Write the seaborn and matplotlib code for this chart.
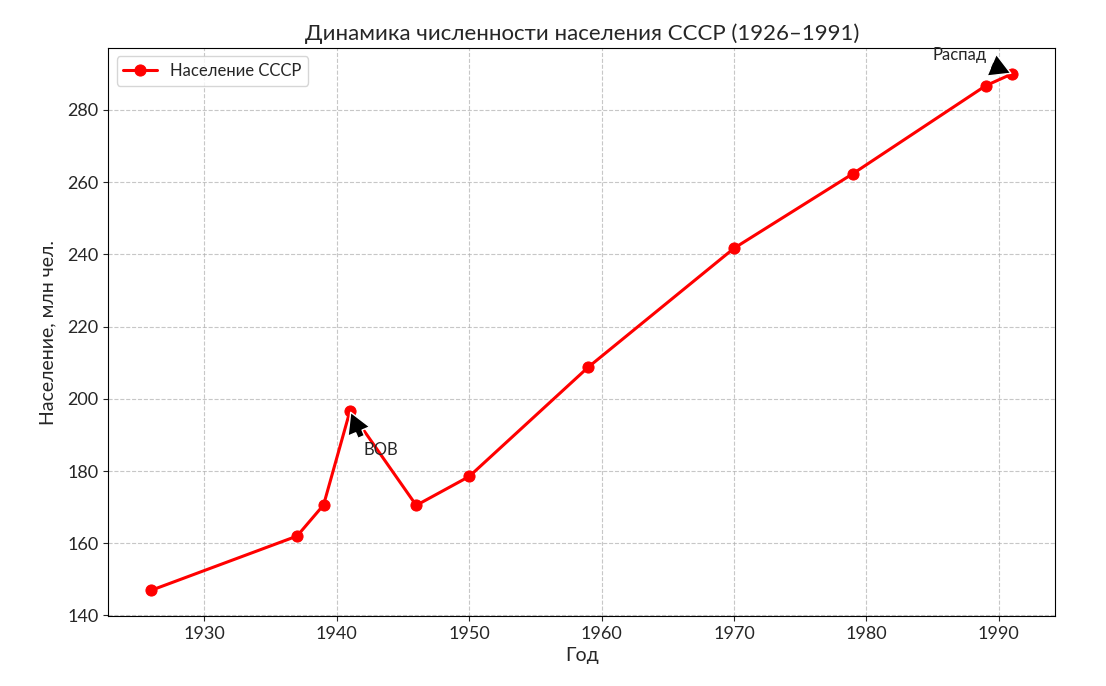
import matplotlib
matplotlib.use("Agg")
import matplotlib.pyplot as plt
import seaborn as sns
import pandas as pd

# Population of the USSR, millions
years = [1926, 1937, 1939, 1941, 1946, 1950, 1959, 1970, 1979, 1989, 1991]
population = [147.0, 162.0, 170.6, 196.7, 170.5, 178.5, 208.8, 241.7, 262.4, 286.7, 290.0]

df = pd.DataFrame({"Год": years, "Население": population})

sns.set_style("ticks")
plt.rcParams['font.family'] = ['Lato', 'DejaVu Sans']

fig = plt.figure(figsize=(11.06, 6.86), dpi=100)
ax = fig.add_axes([0.098, 0.102, 0.856, 0.828])

sns.lineplot(data=df, x="Год", y="Население", ax=ax, color="red", marker="o",
             markersize=8, markeredgecolor="red", linewidth=2.2, label="Население СССР")

arrow = dict(facecolor="black", shrink=0.05, width=5, headwidth=17, headlength=15)
ax.annotate("ВОВ", xy=(1941, 196.7), xytext=(1942, 184.5), fontsize=12, arrowprops=arrow)
ax.annotate("Распад", xy=(1991, 290), xytext=(1985, 293.8), fontsize=12, arrowprops=arrow)

ax.set_title("Динамика численности населения СССР (1926–1991)", fontsize=16)
ax.set_xlabel("Год", fontsize=14)
ax.set_ylabel("Население, млн чел.", fontsize=14, labelpad=8)
ax.tick_params(labelsize=13)
ax.grid(True, linestyle="--", color="#b0b0b0", alpha=0.7)
for s in ax.spines.values():
    s.set_color("black")
ax.legend(loc="upper left", fontsize=12)

fig.savefig("out.png", dpi=100)
